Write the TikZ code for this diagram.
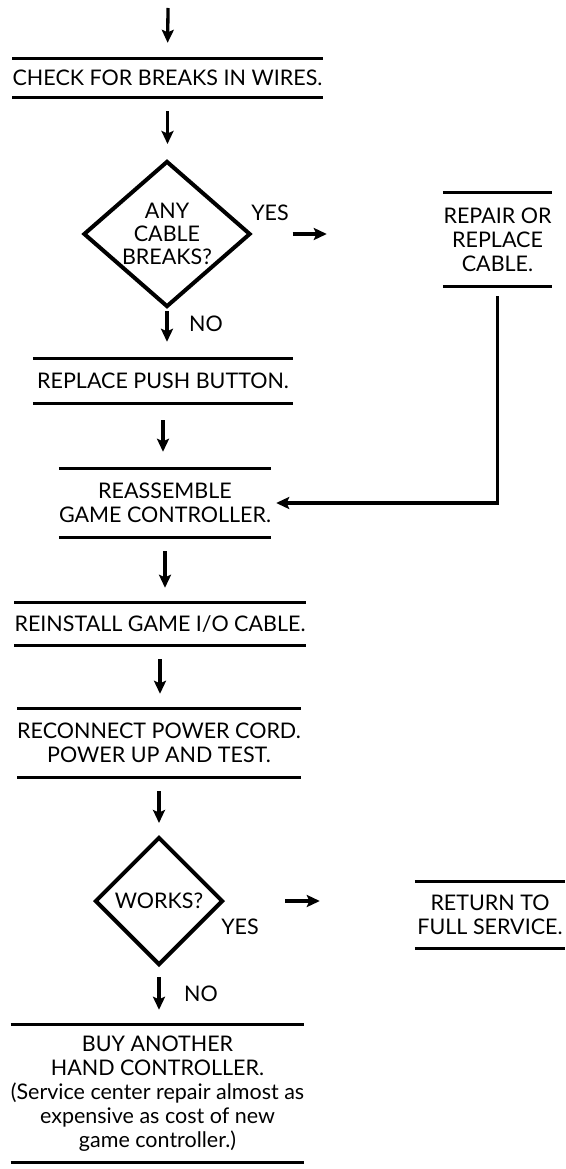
\documentclass[tikz,border=0pt]{standalone}
\usepackage{fontspec}
\setmainfont{Lato}
\usetikzlibrary{arrows.meta,shapes.geometric}

\begin{document}
\begin{tikzpicture}[x=1pt, y=-1pt, >={Stealth[length=13pt,width=12pt,inset=2.5pt]},
  stepbox/.style={align=center, inner sep=0pt, font=\fontsize{21.5}{24}\selectfont},
  decision/.style={diamond, draw, line width=4pt, inner sep=0pt, align=center, font=\fontsize{21.5}{23}\selectfont},
  answer/.style={inner sep=0pt, font=\fontsize{21.5}{24}\selectfont},
  rule/.style={line width=3pt},
  flow/.style={->, line width=3.3pt, shorten <=14pt, shorten >=15pt}]
  \useasboundingbox (0,0) rectangle (565,1169);

  % main column
  \coordinate (start) at (168,8);
  \node[stepbox, minimum width=305pt, minimum height=38pt] (check) at (167.5,78) {CHECK FOR BREAKS IN WIRES.};
  \node[decision, minimum width=167pt, minimum height=146pt, aspect=1.14] (breaks) at (167,234) {ANY\\CABLE\\BREAKS?};
  \node[stepbox, minimum width=260pt, minimum height=44pt] (pushbutton) at (163,381) {REPLACE PUSH BUTTON.};
  \node[stepbox, minimum width=210pt, minimum height=68pt] (reassemble) at (165,503) {REASSEMBLE\\GAME CONTROLLER.};
  \node[stepbox, minimum width=285pt, minimum height=42pt] (reinstall) at (160,624) {REINSTALL GAME I/O CABLE.};
  \node[stepbox, minimum width=282pt, minimum height=68pt] (reconnect) at (159,743) {RECONNECT POWER CORD.\\POWER UP AND TEST.};
  \node[decision, minimum width=128pt, minimum height=128pt] (works) at (159,901) {WORKS?};
  \node[stepbox, minimum width=285pt, minimum height=137pt] (buy) at (157.5,1093.5) {BUY ANOTHER\\HAND CONTROLLER.\\(Service center repair almost as\\expensive as cost of new\\game controller.)};

  % side boxes
  \node[stepbox, minimum width=109pt, minimum height=93pt] (repair) at (497.5,239.5) {REPAIR OR\\REPLACE\\CABLE.};
  \node[stepbox, minimum width=150pt, minimum height=66pt] (service) at (490,915) {RETURN TO\\FULL SERVICE.};

  \foreach \n in {check,pushbutton,reassemble,reinstall,reconnect,buy,repair,service}
    \draw[rule] (\n.north west) -- (\n.north east) (\n.south west) -- (\n.south east);

  % answers
  \node[answer] (yesbreaks) at (270,213) {YES};
  \node[answer] (nobreaks) at (206,324) {NO};
  \node[answer] (yesworks) at (240,927) {YES};
  \node[answer] (noworks) at (201,994) {NO};

  % connectors
  \draw[flow, shorten <=0pt, shorten >=16pt] (start) -- (check.north);
  \draw[flow] (check.south) -- (check.south |- breaks.north);
  \draw[flow, shorten <=2pt, shorten >=17pt] (breaks.south) -- (breaks.south |- pushbutton.north);
  \draw[flow, shorten <=17pt, shorten >=17pt] (pushbutton.south) -- (pushbutton.south |- reassemble.north);
  \draw[flow] (reassemble.south) -- (reassemble.south |- reinstall.north);
  \draw[flow] (reinstall.south) -- (reinstall.south |- reconnect.north);
  \draw[flow, shorten >=12pt] (reconnect.south) -- (reconnect.south |- works.north);
  \draw[flow, shorten <=10pt] (works.south) -- (works.south |- buy.north);
  \draw[flow, shorten <=40pt, shorten >=116pt] (breaks.east) -- (breaks.east -| repair.west);
  \draw[flow, shorten <=60pt, shorten >=95pt] (works.east) -- (works.east -| service.west);
  \draw[flow, shorten <=10pt, shorten >=5pt] (repair.south) |- (reassemble.east);
\end{tikzpicture}
\end{document}
